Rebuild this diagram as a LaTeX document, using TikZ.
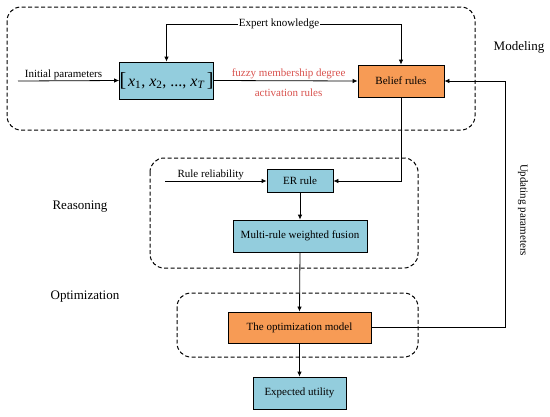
\documentclass[tikz,border=0pt]{standalone}
\usepackage{fontspec}
\setmainfont{Liberation Serif}
\usetikzlibrary{arrows.meta}
\definecolor{boxblue}{HTML}{93CDDD}
\definecolor{boxorange}{HTML}{F79B55}
\definecolor{redtext}{HTML}{D9534F}
\begin{document}
\begin{tikzpicture}[x=1pt,y=-1pt,
  font=\fontsize{11}{13}\selectfont,
  blk/.style={draw=black, line width=0.8pt, inner sep=0pt, align=center},
  bluebox/.style={blk, fill=boxblue},
  orangebox/.style={blk, fill=boxorange},
  arr/.style={-{Latex[length=5pt,width=4.5pt]}, line width=0.8pt},
  groupbox/.style={draw=black, line width=1pt, dash pattern=on 4pt off 2.5pt, rounded corners=14pt},
  stage/.style={font=\fontsize{13}{15}\selectfont},
  lbl/.style={inner sep=1pt}
]
\useasboundingbox (0,0) rectangle (550,416);
\fill[white] (0,0) rectangle (550,416);

% group boxes
\draw[groupbox] (7,7) rectangle (475,130);
\draw[groupbox] (150,158) rectangle (418,268);
\draw[groupbox] (177,293) rectangle (418,357);

% stage labels
\node[stage] (modeling) at (519,47) {Modeling};
\node[stage] (reasoning) at (80,207) {Reasoning};
\node[stage] (optim) at (85,297) {Optimization};

% nodes
\node[bluebox, minimum width=93pt, minimum height=37pt] (X) at (166.5,80.5)
  {{\fontsize{20}{22}\selectfont[}\,{\fontsize{16}{18}\selectfont\textit{x}\textsubscript{1}, \textit{x}\textsubscript{2}, ..., \textit{x}\textsubscript{\textit{T}}}\,{\fontsize{20}{22}\selectfont]}};
\node[orangebox, minimum width=86pt, minimum height=32pt] (B) at (401,81) {Belief rules};
\node[bluebox, minimum width=66pt, minimum height=23pt] (ER) at (300,181) {ER rule};
\node[bluebox, minimum width=134pt, minimum height=32pt] (M) at (300,236) {Multi-rule weighted fusion};
\node[orangebox, minimum width=143pt, minimum height=31pt] (O) at (299.5,327.5) {The optimization model};
\node[bluebox, minimum width=93pt, minimum height=32pt] (E) at (299.5,393) {Expected utility};

% text nodes
\node[lbl] (EK) at (279,24) {Expert knowledge};
\node[lbl] (upd) at (523,210) [rotate=-90] {Updating parameters};

% connectors
\coordinate (ip) at (18,81);
\draw[arr] (ip) -- node[above, lbl, pos=0.45] {Initial parameters} (X.west);
\draw[arr] (EK.west) -| (X.north);
\draw[arr] (EK.east) -| (B.north);
\draw[arr] (X.east) -- node[above, lbl, text=redtext, pos=0.52] {fuzzy membership degree}
                         node[below, lbl, text=redtext, pos=0.52, yshift=-7pt] {activation rules} (B.west);
\draw[arr] (B.south) |- (ER.east);
\coordinate (rr) at (165,181);
\draw[arr] (rr) -- node[above, lbl, pos=0.45] {Rule reliability} (ER.west);
\draw[arr] (ER.south) -- (M.north);
\draw[arr] (M.south) -- (O.north);
\draw[arr] (O.south) -- (E.north);
\coordinate (fb) at (505,327.5);
\draw[arr] (O.east) -- (fb) |- (B.east);
\end{tikzpicture}
\end{document}
